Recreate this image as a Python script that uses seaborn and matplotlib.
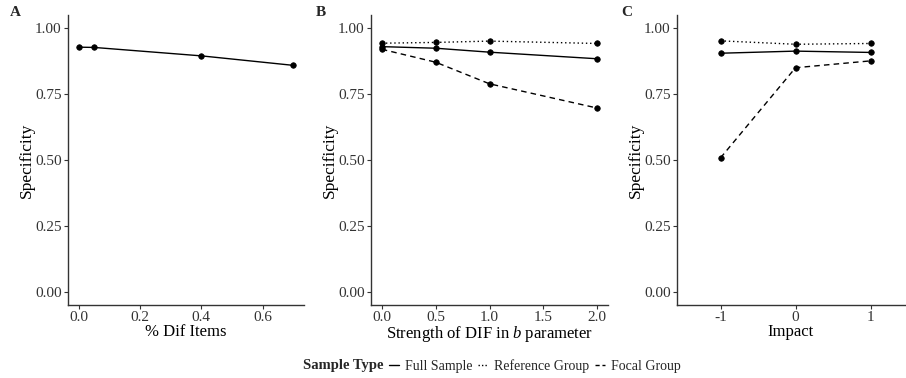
import matplotlib
matplotlib.use("Agg")
import matplotlib.pyplot as plt
from matplotlib.lines import Line2D
import seaborn as sns
import pandas as pd

# ---- data ----
pct_dif = [0.0, 0.05, 0.4, 0.7]
spec_a = [0.928, 0.927, 0.895, 0.859]

dif_strength = [0.0, 0.5, 1.0, 2.0]
b_full = [0.930, 0.924, 0.909, 0.884]
b_ref = [0.943, 0.946, 0.951, 0.942]
b_focal = [0.920, 0.871, 0.789, 0.697]

impact = [-1, 0, 1]
c_full = [0.905, 0.913, 0.908]
c_ref = [0.952, 0.939, 0.942]
c_focal = [0.508, 0.850, 0.876]

groups = ["Full Sample", "Reference Group", "Focal Group"]
yticks = [0.00, 0.25, 0.50, 0.75, 1.00]

sns.set_theme(style="ticks")
plt.rcParams["font.family"] = ["Liberation Serif", "DejaVu Serif"]
plt.rcParams["mathtext.fontset"] = "custom"
plt.rcParams["mathtext.it"] = "Liberation Serif:italic"
plt.rcParams["mathtext.rm"] = "Liberation Serif"
plt.rcParams["axes.unicode_minus"] = False

df_a = pd.DataFrame({"x": pct_dif, "y": spec_a})
df_b = pd.DataFrame({
    "x": dif_strength * 3,
    "y": b_full + b_ref + b_focal,
    "g": [groups[0]] * 4 + [groups[1]] * 4 + [groups[2]] * 4,
})
df_c = pd.DataFrame({
    "x": impact * 3,
    "y": c_full + c_ref + c_focal,
    "g": [groups[0]] * 3 + [groups[1]] * 3 + [groups[2]] * 3,
})

dashes = {groups[0]: "", groups[1]: (1, 2), groups[2]: (4, 3)}
markers = {g: "o" for g in groups}

W, H = 906, 378
fig = plt.figure(figsize=(W / 100, H / 100), dpi=100)
top, bot = 15, 305
def add_ax(l, r):
    return fig.add_axes([l / W, 1 - bot / H, (r - l) / W, (bot - top) / H])

axA = add_ax(68, 304)
axB = add_ax(371, 608)
axC = add_ax(677, 905)

line_kw = dict(color="black", linewidth=1.0, markersize=4, markeredgecolor="black",
               markeredgewidth=0.5)

sns.lineplot(data=df_a, x="x", y="y", ax=axA, marker="o", **line_kw)
sns.lineplot(data=df_b, x="x", y="y", style="g", dashes=dashes, markers=markers,
             ax=axB, legend=False, **line_kw)
sns.lineplot(data=df_c, x="x", y="y", style="g", dashes=dashes, markers=markers,
             ax=axC, legend=False, **line_kw)

axA.set_xlim(-0.035, 0.735)
axA.set_xticks([0.0, 0.2, 0.4, 0.6])
axA.set_xticklabels(["0.0", "0.2", "0.4", "0.6"])
axB.set_xlim(-0.1, 2.1)
axB.set_xticks([0.0, 0.5, 1.0, 1.5, 2.0])
axB.set_xticklabels(["0.0", "0.5", "1.0", "1.5", "2.0"])
axC.set_xlim(-1.58, 1.46)
axC.set_xticks(impact)
axC.set_xticklabels([str(v) for v in impact])

xlabels = ["% Dif Items", "Strength of DIF in $b$ parameter", "Impact"]
for ax, xl, letter, lx in zip([axA, axB, axC], xlabels, ["A", "B", "C"], [10, 316, 621]):
    ax.set_ylim(-0.05, 1.05)
    ax.set_yticks(yticks)
    ax.set_yticklabels([f"{v:.2f}" for v in yticks])
    sns.despine(ax=ax)
    for s in ["left", "bottom"]:
        ax.spines[s].set_color("#333333")
        ax.spines[s].set_linewidth(1.0)
    ax.tick_params(axis="both", length=3, width=0.8, color="#333333",
                   labelsize=11, labelcolor="#333333", pad=1.5)
    ax.set_xlabel(xl, fontsize=12, color="black", labelpad=0)
    ax.set_ylabel("Specificity", fontsize=12.5, color="black", labelpad=0)
    fig.text(lx / W, 1 - 12 / H, letter, fontsize=11, fontweight="bold",
             ha="left", va="center")

handles = [Line2D([], [], color="black", linewidth=1.0,
                  linestyle=(0, (1, 1.5)) if g == groups[1] else ((0, (3, 2)) if g == groups[2] else "-"))
           for g in groups]
fig.text(303 / W, 1 - 366 / H, "Sample Type", fontsize=10.5, fontweight="bold",
         ha="left", va="center")
fig.legend(handles, groups, loc="center left", bbox_to_anchor=(389 / W, 1 - 366 / H),
           ncol=3, frameon=False, fontsize=10, handlelength=0.75, handletextpad=0.4,
           columnspacing=0.4, borderpad=0, borderaxespad=0)

fig.savefig("out.png", dpi=100)
